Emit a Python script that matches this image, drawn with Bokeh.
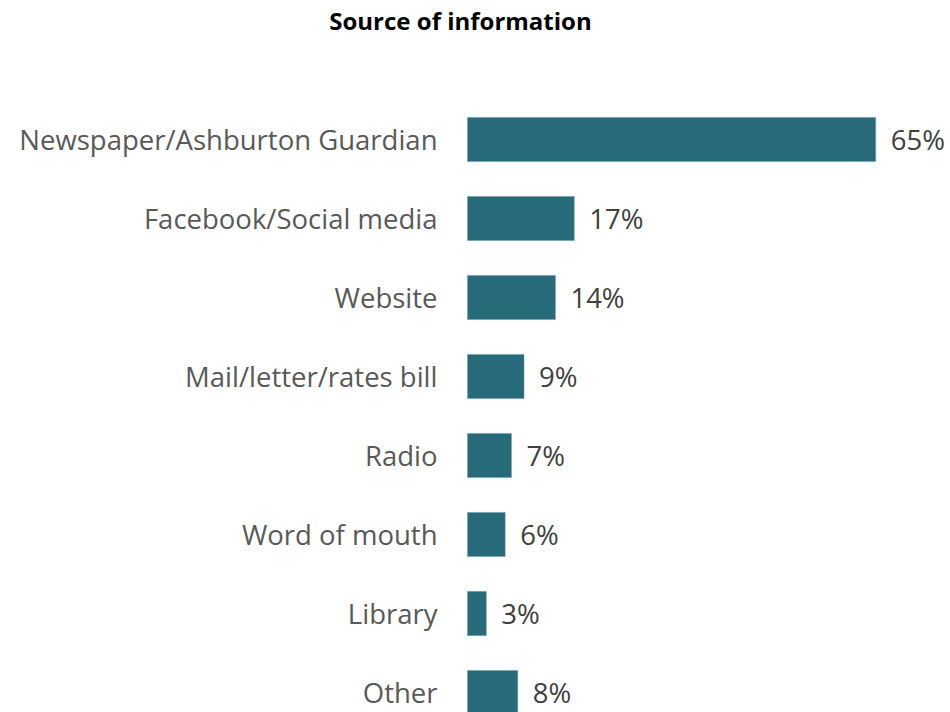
import numpy as np
from bokeh.plotting import figure
from bokeh.models import ColumnDataSource, Range1d, Label
from bokeh.core.properties import value
from bokeh.embed import file_html
from bokeh.resources import INLINE

title = "Source of information"
categories = ["Newspaper/Ashburton Guardian", "Facebook/Social media", "Website",
              "Mail/letter/rates bill", "Radio", "Word of mouth", "Library", "Other"]
percent = [65, 17, 14, 9, 7, 6, 3, 8]

ypos = np.arange(len(categories))
src = ColumnDataSource(dict(
    cat=categories,
    pct=percent,
    y=ypos,
    lbl=[f"{v}%" for v in percent],
))

W, H = 950, 712
px_per_unit = 6.28
zero_px = 467
row_px = 79
first_px = 139

p = figure(width=W, height=H, output_backend="svg", toolbar_location=None,
           x_range=Range1d(-zero_px / px_per_unit, (W - zero_px) / px_per_unit),
           y_range=Range1d((H - first_px) / row_px, -first_px / row_px),
           min_border=0, outline_line_color=None)
p.axis.visible = False
p.grid.visible = False
p.background_fill_color = "white"
p.border_fill_color = "white"

p.hbar(y="y", left=0, right="pct", height=0.56, source=src,
       fill_color="#276A7A", line_color="#6A9BA6", line_width=0.5)

p.text(x=0, y="y", text="cat", source=src, x_offset=-30,
       text_align="right", text_baseline="middle",
       text_font=value("Open Sans"), text_font_size="27.5px", text_color="#595959")

p.text(x="pct", y="y", text="lbl", source=src, x_offset=15,
       text_align="left", text_baseline="middle",
       text_font=value("Open Sans"), text_font_size="27.5px", text_color="#404040")

p.add_layout(Label(x=460, y=H - 20, x_units="screen", y_units="screen", text=title,
                   text_align="center", text_baseline="middle",
                   text_font="Open Sans", text_font_style="bold",
                   text_font_size="24px", text_color="black"))

open("out.html", "w").write(file_html(p, INLINE))
